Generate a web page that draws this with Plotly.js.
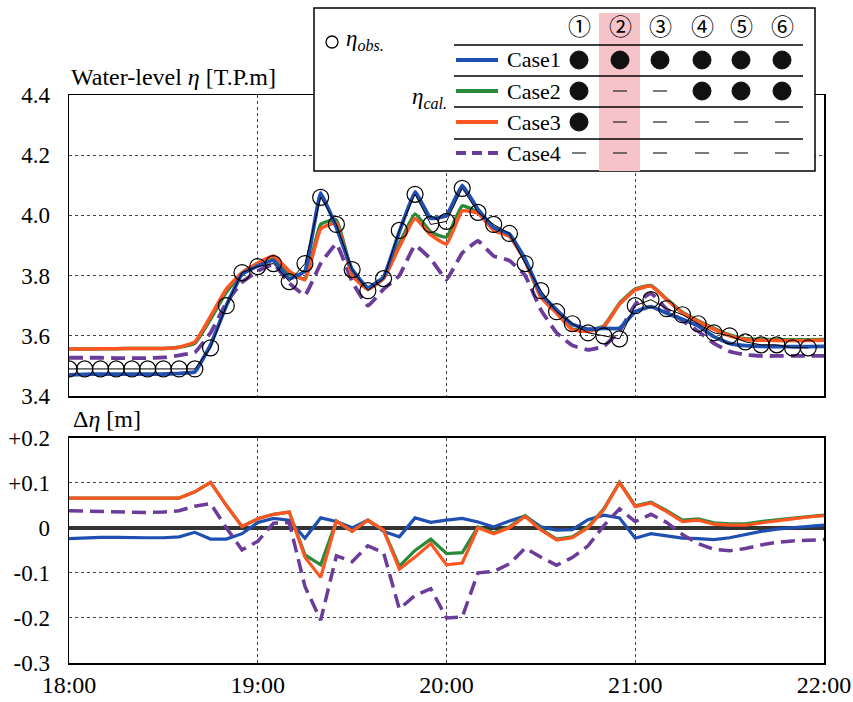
<!DOCTYPE html>
<html>
<head>
<meta charset="utf-8">
<script src="https://cdn.plot.ly/plotly-3.0.1.min.js"></script>
<style>html,body{margin:0;padding:0;background:#fff;}#chart{width:853px;height:702px;}</style>
</head>
<body>
<div id="chart"></div>
<script>
// ---------------- DATA ----------------
const tickVals = [0, 60, 120, 180, 240];
const tickText = ["18:00", "19:00", "20:00", "21:00", "22:00"];
// minutes after 18:00
const tObs = [0,5,10,15,20,25,30,35,40,45,50,55,60,65,70,75,80,85,90,95,100,105,110,115,120,125,130,135,140,145,150,155,160,165,170,175,180,185,190,195,200,205,210,215,220,225,230,235];
const etaObs = [3.49,3.49,3.49,3.49,3.49,3.49,3.49,3.49,3.49,3.56,3.70,3.81,3.83,3.84,3.78,3.84,4.06,3.97,3.82,3.75,3.79,3.95,4.07,3.97,3.98,4.09,4.01,3.97,3.94,3.84,3.75,3.68,3.64,3.61,3.60,3.59,3.70,3.72,3.69,3.67,3.64,3.61,3.60,3.58,3.57,3.57,3.56,3.56];
const tCal = [0,5,10,15,20,25,30,35,40,45,50,55,60,65,70,75,80,85,90,95,100,105,110,115,120,125,130,135,140,145,150,155,160,165,170,175,180,185,190,195,200,205,210,215,220,225,230,235,240];
const case1 = [3.470,3.472,3.473,3.473,3.473,3.473,3.473,3.475,3.480,3.570,3.700,3.805,3.832,3.850,3.790,3.815,4.075,3.960,3.820,3.760,3.795,3.945,4.078,3.990,4.000,4.100,4.020,3.960,3.938,3.855,3.740,3.686,3.638,3.622,3.625,3.625,3.680,3.697,3.675,3.655,3.633,3.597,3.575,3.567,3.565,3.564,3.564,3.564,3.565];
const case2 = [3.556,3.556,3.557,3.557,3.558,3.558,3.558,3.562,3.575,3.655,3.745,3.808,3.840,3.862,3.805,3.790,3.970,3.985,3.810,3.757,3.792,3.905,4.005,3.945,3.928,4.032,4.010,3.955,3.935,3.850,3.730,3.678,3.622,3.617,3.633,3.708,3.755,3.767,3.722,3.678,3.650,3.625,3.603,3.590,3.588,3.587,3.587,3.587,3.588];
const case3 = [3.556,3.556,3.557,3.557,3.558,3.558,3.558,3.562,3.580,3.665,3.755,3.810,3.842,3.865,3.815,3.786,3.955,3.975,3.800,3.755,3.790,3.895,3.990,3.935,3.905,4.015,4.007,3.950,3.930,3.848,3.728,3.675,3.620,3.615,3.630,3.705,3.752,3.765,3.720,3.676,3.648,3.622,3.600,3.588,3.585,3.584,3.584,3.584,3.585];
const case4 = [3.527,3.527,3.527,3.526,3.526,3.526,3.528,3.535,3.545,3.610,3.710,3.778,3.815,3.838,3.775,3.735,3.840,3.905,3.780,3.700,3.755,3.800,3.900,3.855,3.787,3.875,3.915,3.865,3.850,3.800,3.686,3.610,3.568,3.553,3.565,3.615,3.705,3.741,3.688,3.650,3.615,3.575,3.548,3.537,3.533,3.533,3.533,3.533,3.533];
// differences  eta_cal - eta_obs  [m]
const d1 = [-0.024,-0.022,-0.021,-0.021,-0.022,-0.022,-0.022,-0.020,-0.010,-0.025,-0.025,-0.013,0.012,0.021,0.017,-0.023,0.022,0.014,0.000,0.017,-0.008,-0.020,0.022,0.012,0.017,0.021,0.013,0.002,0.015,0.026,0.002,-0.005,-0.004,0.018,0.028,0.022,-0.023,-0.013,-0.018,-0.023,-0.024,-0.026,-0.022,-0.015,-0.008,-0.003,0.000,0.003,0.006];
const d2 = [0.066,0.066,0.066,0.065,0.065,0.065,0.066,0.066,0.080,0.101,0.050,0.003,0.020,0.030,0.035,-0.060,-0.082,0.015,-0.008,0.017,-0.005,-0.085,-0.050,-0.025,-0.057,-0.055,0.002,-0.011,0.002,0.027,-0.003,-0.025,-0.020,0.002,0.042,0.101,0.049,0.057,0.038,0.017,0.020,0.011,0.009,0.009,0.014,0.018,0.022,0.025,0.028];
const d3 = [0.066,0.066,0.066,0.065,0.065,0.065,0.066,0.066,0.080,0.101,0.050,0.003,0.020,0.030,0.035,-0.065,-0.110,0.015,-0.008,0.017,-0.005,-0.092,-0.065,-0.035,-0.082,-0.078,0.000,-0.013,0.000,0.025,-0.005,-0.027,-0.022,0.000,0.040,0.100,0.047,0.055,0.036,0.014,0.017,0.008,0.006,0.006,0.011,0.016,0.020,0.024,0.027];
const d4 = [0.038,0.037,0.036,0.035,0.034,0.034,0.035,0.038,0.048,0.054,0.000,-0.049,-0.030,0.010,0.012,-0.130,-0.205,-0.062,-0.075,-0.040,-0.055,-0.180,-0.150,-0.135,-0.200,-0.198,-0.100,-0.097,-0.080,-0.045,-0.065,-0.083,-0.066,-0.040,0.005,0.042,0.014,0.030,0.012,-0.015,-0.035,-0.048,-0.051,-0.046,-0.038,-0.032,-0.029,-0.027,-0.026];
// legend table
const caseNames = ["Case1", "Case2", "Case3", "Case4"];
const stations = ["①", "②", "③", "④", "⑤", "⑥"];
const usage = [[1,1,1,1,1,1],[1,0,0,1,1,1],[1,0,0,0,0,0],[0,0,0,0,0,0]];
const topTicks = [3.4, 3.6, 3.8, 4.0, 4.2, 4.4];
const topTickText = ["3.4", "3.6", "3.8", "4.0", "4.2", "4.4"];
const botTicks = [-0.3, -0.2, -0.1, 0, 0.1, 0.2];
const botTickText = ["-0.3", "-0.2", "-0.1", "0", "+0.1", "+0.2"];

// ---------------- STYLE ----------------
const colors = {c1: "#1f4fb0", c2: "#2a8a3a", c3: "#ff5520", c4: "#6b3c9a"};
const serif = "Liberation Serif";
const W = 853, H = 702, L = 69, R = 824, T = 95, B = 663;
const px = x => (x - L) / (R - L);
const py = y => (B - y) / (B - T);

const traces = [
  {x: tCal, y: case4, xaxis: "x2", yaxis: "y2", mode: "lines", line: {color: colors.c4, width: 3.8, dash: "14px,7px", shape: "spline", smoothing: 0.3}},
  {x: tCal, y: case2, xaxis: "x2", yaxis: "y2", mode: "lines", line: {color: colors.c2, width: 3.5, shape: "spline", smoothing: 0.4}},
  {x: tCal, y: case3, xaxis: "x2", yaxis: "y2", mode: "lines", line: {color: colors.c3, width: 3.5, shape: "spline", smoothing: 0.4}},
  {x: tCal, y: case1, xaxis: "x2", yaxis: "y2", mode: "lines", line: {color: colors.c1, width: 3.8, shape: "spline", smoothing: 0.3}},
  {x: tObs, y: etaObs, xaxis: "x2", yaxis: "y2", mode: "lines+markers", line: {color: "#000", width: 1},
   marker: {symbol: "circle-open", size: 16, color: "#000", line: {width: 1.2, color: "#000"}}},
  {x: tCal, y: d1, xaxis: "x", yaxis: "y", mode: "lines", line: {color: colors.c1, width: 3.2}},
  {x: tCal, y: d4, xaxis: "x", yaxis: "y", mode: "lines", line: {color: colors.c4, width: 3.5, dash: "14px,7px"}},
  {x: tCal, y: d2, xaxis: "x", yaxis: "y", mode: "lines", line: {color: colors.c2, width: 3.2}},
  {x: tCal, y: d3, xaxis: "x", yaxis: "y", mode: "lines", line: {color: colors.c3, width: 3.2}}
];

const shapes = [];
const ann = [];
const pRect = (x0, y0, x1, y1, extra) => Object.assign({type: "rect", xref: "paper", yref: "paper", x0: px(x0), x1: px(x1), y0: py(y1), y1: py(y0), layer: "above"}, extra);
const pLine = (x0, y0, x1, y1, line) => ({type: "line", xref: "paper", yref: "paper", x0: px(x0), x1: px(x1), y0: py(y0), y1: py(y1), line: line, layer: "above"});
const pCirc = (cx, cy, r, extra) => Object.assign({type: "circle", xref: "paper", yref: "paper", x0: px(cx - r), x1: px(cx + r), y0: py(cy + r), y1: py(cy - r), layer: "above"}, extra);
const pText = (x, y, text, xanchor, size, fam, extra) => Object.assign({xref: "paper", yref: "paper", x: px(x), y: py(y), text: text, showarrow: false, xanchor: xanchor, yanchor: "middle", font: {family: fam || serif, size: size, color: "#000"}}, extra);

shapes.push(pRect(314, 8, 815, 171, {fillcolor: "#fff", line: {color: "#000", width: 1.5}}));
shapes.push(pRect(599, 13, 640, 171, {fillcolor: "#f6c3c9", line: {width: 0}}));
[45, 76, 107, 139].forEach(y => shapes.push(pLine(454, y, 803, y, {color: "#000", width: 1.3})));
const colX = [579, 620, 660, 702, 741, 782];
const rowY = [60, 91, 122, 153];
const sampleCols = [colors.c1, colors.c2, colors.c3, colors.c4];
stations.forEach((s, j) => ann.push(pText(colX[j], 25, s, "center", 23, "Noto Sans CJK JP")));
caseNames.forEach((n, i) => {
  const y = rowY[i];
  shapes.push(pLine(456, y, 498, y, {color: sampleCols[i], width: 4, dash: i === 3 ? "10px,6px" : "solid"}));
  ann.push(pText(505, y, n, "left", 22));
  usage[i].forEach((u, j) => {
    if (u) shapes.push(pCirc(colX[j], y, 9, {fillcolor: "#111", line: {color: "#111", width: 1}}));
    else shapes.push(pLine(colX[j] - 7, y, colX[j] + 7, y, {color: "#222", width: 1.2}));
  });
});
shapes.push(pCirc(332, 42, 6, {fillcolor: "rgba(0,0,0,0)", line: {color: "#000", width: 1.3}}));
ann.push(pText(344, 40, "<i>η</i><sub><i>obs.</i></sub>", "left", 23));
ann.push(pText(410, 98, "<i>η</i><sub><i>cal.</i></sub>", "left", 23));
ann.push(pText(69, 77, "Water-level <i>η</i> [T.P.m]", "left", 24));
ann.push(pText(71, 419, "Δ<i>η</i> [m]", "left", 24));

const gridStyle = {showgrid: true, gridcolor: "#444", gridwidth: 1, griddash: "dot"};
const layout = {
  width: W, height: H,
  margin: {l: L, r: W - R, t: T, b: H - B},
  paper_bgcolor: "#fff", plot_bgcolor: "#fff",
  showlegend: false,
  font: {family: serif, size: 23, color: "#000"},
  xaxis: Object.assign({domain: [0, 1], anchor: "y", range: [0, 240], tickvals: tickVals, ticktext: tickText,
    showline: true, linecolor: "#000", linewidth: 1.5, mirror: true, ticks: "", zeroline: false, ticklabelstandoff: 0,
    tickfont: {family: serif, size: 24, color: "#000"}}, gridStyle),
  xaxis2: Object.assign({domain: [0, 1], anchor: "y2", range: [0, 240], tickvals: tickVals, showticklabels: false,
    showline: true, linecolor: "#000", linewidth: 1.5, mirror: true, ticks: "", zeroline: false}, gridStyle),
  yaxis: Object.assign({domain: [0, (B - 437.7) / (B - T)], anchor: "x", range: [-0.3, 0.2], tickvals: botTicks, ticktext: botTickText,
    showline: true, linecolor: "#000", linewidth: 1.5, mirror: true, ticks: "", ticklabelstandoff: 13,
    zeroline: true, zerolinecolor: "#333", zerolinewidth: 4, tickfont: {family: serif, size: 23, color: "#000"}}, gridStyle),
  yaxis2: Object.assign({domain: [(B - 396) / (B - T), 1], anchor: "x2", range: [3.4, 4.4], tickvals: topTicks, ticktext: topTickText,
    showline: true, linecolor: "#000", linewidth: 1.5, mirror: true, ticks: "", ticklabelstandoff: 13, zeroline: false,
    tickfont: {family: serif, size: 23, color: "#000"}}, gridStyle),
  shapes: shapes,
  annotations: ann
};
Plotly.newPlot("chart", traces, layout, {staticPlot: true, displayModeBar: false});
</script>
</body>
</html>
